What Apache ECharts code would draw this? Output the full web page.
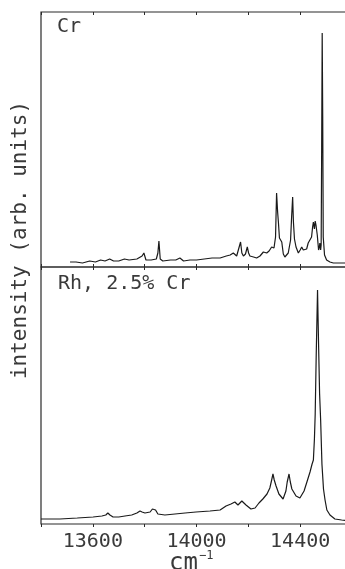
<!DOCTYPE html>
<html>
<head>
<meta charset="utf-8">
<script src="https://cdn.jsdelivr.net/npm/echarts@6/dist/echarts.min.js"></script>
<style>
  body { margin: 0; background: #fff; }
  #main { width: 345px; height: 569px; }
</style>
</head>
<body>
<div id="main"></div>
<script>
// wavenumber (cm-1) and intensity (arb. units)
var crWn = [13512, 13535, 13560, 13588, 13610, 13630, 13647, 13665, 13680, 13700,
  13722, 13740, 13770, 13790, 13797, 13805, 13825, 13845, 13851, 13855,
  13860, 13870, 13900, 13920, 13936, 13950, 13975, 14000, 14030, 14060,
  14091, 14115, 14130, 14142, 14155, 14162, 14170, 14175, 14181, 14189,
  14196, 14201, 14206, 14220, 14232, 14245, 14258, 14264, 14271, 14280,
  14290, 14299, 14305, 14309, 14313, 14316, 14320, 14324, 14329, 14335,
  14341, 14348, 14354, 14363, 14367, 14371, 14374, 14378, 14384, 14393,
  14400, 14406, 14412, 14419, 14425, 14431, 14437, 14444, 14448, 14451,
  14455, 14458, 14461, 14466, 14471, 14474, 14476, 14479, 14481, 14483,
  14485, 14487, 14489, 14494, 14502, 14515, 14528, 14600];
var crInt = [5, 5, 4, 6, 5, 7, 6, 8, 6, 6,
  8, 7, 8, 11, 14, 7, 7, 8, 14, 26,
  8, 6, 7, 7, 9, 6, 7, 7, 8, 9,
  9, 11, 12, 14, 11, 12, 25, 14, 11, 13,
  20, 14, 11, 10, 9, 11, 15, 13, 14, 16,
  20, 19, 30, 74, 55, 45, 29, 28, 25, 13,
  10, 12, 14, 27, 50, 70, 45, 28, 20, 14,
  17, 20, 17, 15, 18, 24, 26, 30, 40, 45,
  38, 46, 42, 32, 17, 20, 24, 17, 22, 120,
  234, 150, 30, 12, 7, 5, 4, 4];

var rhWn = [13400, 13473, 13540, 13601, 13635, 13650, 13658, 13666, 13678, 13700,
  13724, 13750, 13770, 13782, 13790, 13801, 13821, 13830, 13836, 13842,
  13851, 13878, 13917, 13956, 13998, 14052, 14091, 14114, 14133, 14148,
  14160, 14175, 14191, 14210, 14226, 14241, 14256, 14272, 14283, 14290,
  14295, 14300, 14307, 14318, 14334, 14345, 14350, 14357, 14362, 14368,
  14384, 14399, 14415, 14426, 14438, 14446, 14451, 14455, 14458, 14462,
  14467, 14471, 14475, 14479, 14484, 14490, 14496, 14503, 14515, 14534,
  14560, 14600];
var rhInt = [5, 5, 6, 7, 8, 9, 11, 9, 7, 7,
  8, 9, 11, 13, 12, 11, 12, 15, 17, 14,
  10, 9, 10, 11, 12, 13, 14, 18, 20, 22,
  19, 23, 19, 15, 16, 21, 25, 30, 36, 44,
  50, 44, 38, 30, 25, 33, 42, 50, 42, 35,
  28, 26, 33, 42, 52, 60, 64, 85, 110, 170,
  234, 180, 130, 104, 60, 35, 24, 14, 9, 5,
  4, 3];

var tickLabels = [13600, 14000, 14400];
var panelNames = ['Cr', 'Rh, 2.5% Cr'];

function zip(xs, ys) {
  return xs.map(function (x, i) { return [x, ys[i]]; });
}

var font = '"DejaVu Sans Mono", monospace';
var ink = '#2a2a2a';
var txt = '#3a3a3a';

function xAx(grid, pos, showLabel, tickInside) {
  return {
    type: 'value', gridIndex: grid, position: pos,
    min: 13400, max: 14600, interval: 200,
    axisLine: { show: false },
    axisTick: { show: true, inside: tickInside, length: 3, lineStyle: { color: ink, width: 1 } },
    splitLine: { show: false },
    axisLabel: {
      show: showLabel, margin: 8, color: txt, fontFamily: font, fontSize: 20,
      formatter: function (v) { return tickLabels.indexOf(v) >= 0 ? String(v) : ''; }
    }
  };
}

var myChart = echarts.init(document.getElementById('main'));
myChart.setOption({
  animation: false,
  grid: [
    { left: 41, top: 12, width: 311, height: 255, outerBoundsMode: 'none', show: true, borderColor: ink, borderWidth: 1.2 },
    { left: 41, top: 267, width: 311, height: 257, outerBoundsMode: 'none', show: true, borderColor: ink, borderWidth: 1.2 }
  ],
  xAxis: [
    xAx(0, 'bottom', false, true),
    xAx(0, 'top', false, true),
    xAx(1, 'bottom', true, false),
    xAx(1, 'top', false, true)
  ],
  yAxis: [
    { type: 'value', gridIndex: 0, min: 0, max: 255, show: false },
    { type: 'value', gridIndex: 1, min: 0, max: 257, show: false }
  ],
  series: [
    {
      name: panelNames[0], type: 'line', xAxisIndex: 0, yAxisIndex: 0,
      data: zip(crWn, crInt), showSymbol: false,
      lineStyle: { color: '#1a1a1a', width: 1.2 }
    },
    {
      name: panelNames[1], type: 'line', xAxisIndex: 2, yAxisIndex: 1,
      data: zip(rhWn, rhInt), showSymbol: false,
      lineStyle: { color: '#1a1a1a', width: 1.2 }
    }
  ],
  graphic: [
    { type: 'text', x: 57, y: 27, style: { text: panelNames[0], font: '20px ' + font, fill: txt, verticalAlign: 'middle' } },
    { type: 'text', x: 58, y: 284, style: { text: panelNames[1], font: '20px ' + font, fill: txt, verticalAlign: 'middle' } },
    {
      type: 'text', x: 21, y: 240, rotation: Math.PI / 2,
      style: { text: 'intensity (arb. units)', font: '21px ' + font, fill: txt, align: 'center', verticalAlign: 'middle' }
    },
    { type: 'text', x: 169, y: 564, style: { text: 'cm', font: '24px ' + font, fill: txt, verticalAlign: 'middle' } },
    { type: 'text', x: 199, y: 556, style: { text: '\u22121', font: '12px ' + font, fill: txt, verticalAlign: 'middle' } }
  ]
});
</script>
</body>
</html>
